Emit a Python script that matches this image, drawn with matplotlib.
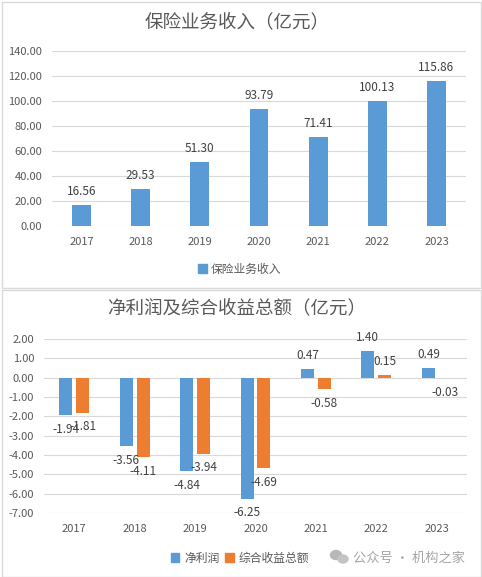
import matplotlib
matplotlib.use("Agg")
import matplotlib.pyplot as plt
from matplotlib.patches import Rectangle, Ellipse

plt.rcParams['font.family'] = ['Noto Sans CJK SC', 'DejaVu Sans']

years = ["2017", "2018", "2019", "2020", "2021", "2022", "2023"]
premium = [16.56, 29.53, 51.30, 93.79, 71.41, 100.13, 115.86]
net_profit = [-1.94, -3.56, -4.84, -6.25, 0.47, 1.40, 0.49]
total_income = [-1.81, -4.11, -3.94, -4.69, -0.58, 0.15, -0.03]
top_ticks = [0, 20, 40, 60, 80, 100, 120, 140]
bot_ticks = [-7, -6, -5, -4, -3, -2, -1, 0, 1, 2]

BLUE = "#5B9BD5"
ORANGE = "#ED7D31"
GRID = "#D9D9D9"
TXT = "#595959"
LBL = "#404040"

W, H = 482, 577
fig = plt.figure(figsize=(W / 100, H / 100), dpi=100)
fig.patch.set_facecolor("white")

def fx(px):
    return px / W

def fy(py):
    return 1 - py / H

# panel borders
for (x0, y0, x1, y1) in [(1.5, 1.5, 481, 288), (1.5, 289.5, 481, 576.5)]:
    fig.add_artist(Rectangle((fx(x0), fy(y1)), fx(x1 - x0), (y1 - y0) / H,
                             transform=fig.transFigure, fill=False,
                             edgecolor=GRID, lw=1.0))

def style_axes(ax, ticks, ylim):
    ax.set_ylim(*ylim)
    ax.set_xlim(-0.5, len(years) - 0.5)
    ax.set_yticks(ticks)
    ax.set_yticklabels([f"{t:.2f}" for t in ticks])
    ax.set_xticks(range(len(years)))
    ax.set_xticklabels(years)
    for s in ax.spines.values():
        s.set_visible(False)
    ax.tick_params(length=0, labelsize=8, colors=TXT)
    ax.tick_params(axis='y', pad=7)
    ax.tick_params(axis='x', pad=8)
    ax.grid(axis='y', color=GRID, lw=0.8)
    ax.set_axisbelow(True)

# ---------- top chart ----------
ax1 = fig.add_axes([fx(52), fy(226), fx(466 - 52), (226 - 51) / H])
style_axes(ax1, top_ticks, (0, 140))
xs = list(range(len(years)))
ax1.bar(xs, premium, width=0.32, color=BLUE, zorder=2)
for x, v in zip(xs, premium):
    ax1.annotate(f"{v:.2f}", (x, v), xytext=(0, 5), textcoords="offset points",
                 ha="center", va="bottom", fontsize=8.5, color=LBL)
fig.text(fx(237), fy(22), "保险业务收入（亿元）", ha="center", va="center",
         fontsize=13.3, color=TXT)
fig.legend(handles=[Rectangle((0, 0), 1, 1, color=BLUE)], labels=["保险业务收入"],
           loc="center", bbox_to_anchor=(fx(240), fy(269)), frameon=False,
           fontsize=8.5, handlelength=0.7, handleheight=0.7, handletextpad=0.4,
           labelcolor=TXT)

# ---------- bottom chart ----------
ax2 = fig.add_axes([fx(44), fy(513), fx(467 - 44), (513 - 339) / H])
style_axes(ax2, bot_ticks, (-7, 2))
off = 0.14
bw = 0.215
ax2.bar([x - off for x in xs], net_profit, width=bw, color=BLUE, zorder=2)
ax2.bar([x + off for x in xs], total_income, width=bw, color=ORANGE, zorder=2)
for series, sgn in ((net_profit, -1), (total_income, 1)):
    for x, v in zip(xs, series):
        dy = 5 if v >= 0 else -5.5
        ax2.annotate(f"{v:.2f}", (x + sgn * off, v), xytext=(0, dy),
                     textcoords="offset points", ha="center",
                     va="bottom" if v >= 0 else "top", fontsize=8.5, color=LBL)
fig.text(fx(237), fy(308), "净利润及综合收益总额（亿元）", ha="center", va="center",
         fontsize=13.3, color=TXT)
fig.legend(handles=[Rectangle((0, 0), 1, 1, color=BLUE), Rectangle((0, 0), 1, 1, color=ORANGE)],
           labels=["净利润", "综合收益总额"],
           loc="center", bbox_to_anchor=(fx(240), fy(558)), frameon=False, ncol=2,
           fontsize=8.5, handlelength=0.7, handleheight=0.7, handletextpad=0.4,
           columnspacing=0.5, labelcolor=TXT)

# watermark
fig.add_artist(Ellipse((fx(336), fy(555)), fx(11), 9 / H, transform=fig.transFigure,
                       color="#B8B8B8"))
fig.add_artist(Ellipse((fx(343), fy(559)), fx(10), 8 / H, transform=fig.transFigure,
                       color="#C4C4C4"))
fig.text(fx(353), fy(558), "公众号 · 机构之家", ha="left", va="center",
         fontsize=9.5, color="#A6A6A6")

fig.savefig("out.png", dpi=100)
